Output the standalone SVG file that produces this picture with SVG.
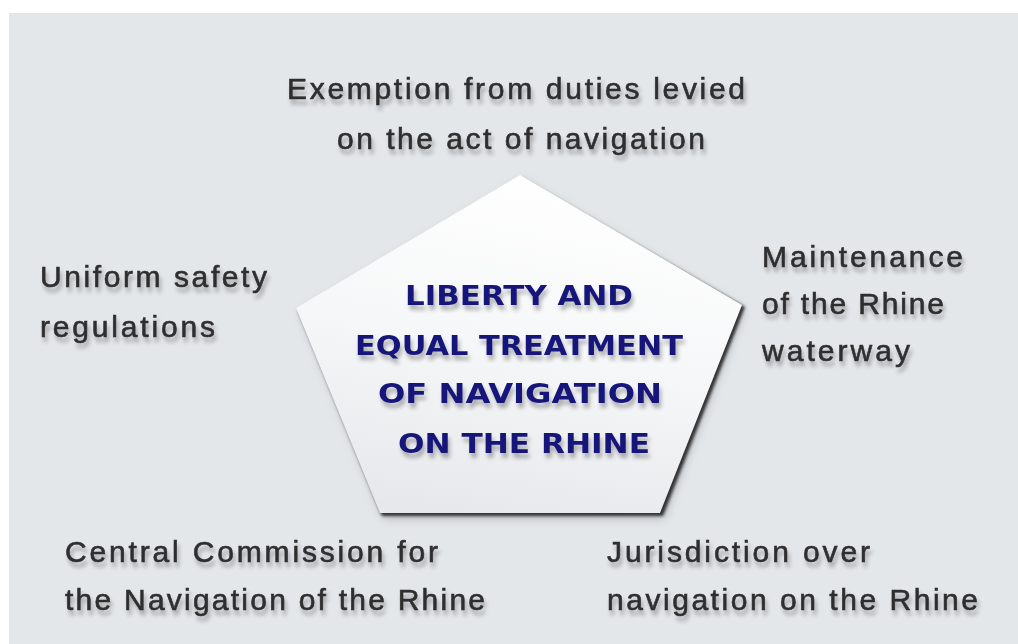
<svg xmlns="http://www.w3.org/2000/svg" width="1018" height="644" viewBox="0 0 1018 644">
<defs>
<style>
.lbl{font-family:"Liberation Sans",Arial,sans-serif;font-size:30px;fill:#2e2e2e;stroke:#2e2e2e;stroke-width:0.6px;filter:url(#tshadow);}
.ctr{font-family:"DejaVu Sans",Verdana,sans-serif;font-weight:bold;font-size:27px;fill:#14147a;filter:url(#tshadow);}
</style>
<filter id="tshadow" x="-10%" y="-40%" width="120%" height="200%">
<feGaussianBlur in="SourceAlpha" stdDeviation="2.2"/>
<feOffset dx="2" dy="5" result="b"/>
<feComponentTransfer in="b" result="s"><feFuncA type="linear" slope="0.3"/></feComponentTransfer>
<feMerge><feMergeNode in="s"/><feMergeNode in="SourceGraphic"/></feMerge>
</filter>
<filter id="pshadow" x="-20%" y="-20%" width="140%" height="140%">
<feGaussianBlur stdDeviation="1.6"/>
</filter>
<filter id="psoft" x="-20%" y="-20%" width="140%" height="140%">
<feGaussianBlur stdDeviation="5"/>
</filter>
<linearGradient id="pfill" x1="0.6" y1="0" x2="0.35" y2="1">
<stop offset="0" stop-color="#ffffff"/>
<stop offset="0.5" stop-color="#f6f7f8"/>
<stop offset="1" stop-color="#e6e8eb"/>
</linearGradient>
</defs>
<rect x="0" y="0" width="1018" height="644" fill="#ffffff"/>
<rect x="9" y="13" width="1009" height="631" fill="#e4e7ea"/>
<g id="connectors"></g>
<g id="center">
<polygon points="522,180 745,310 664,519 384,519 300,313" fill="#9aa0a6" opacity="0.6" filter="url(#psoft)"/>
<polygon points="521,178 745,307 663,516 382,516 298,310" fill="#333333" filter="url(#pshadow)"/>
<polygon points="520,175 742,305 660,513 380,513 296,308" fill="url(#pfill)"/>
<text class="ctr" x="519" y="305" text-anchor="middle" textLength="228" lengthAdjust="spacingAndGlyphs">LIBERTY AND</text>
<text class="ctr" x="519" y="355" text-anchor="middle" textLength="328" lengthAdjust="spacingAndGlyphs">EQUAL TREATMENT</text>
<text class="ctr" x="520" y="403" text-anchor="middle" textLength="284" lengthAdjust="spacingAndGlyphs">OF NAVIGATION</text>
<text class="ctr" x="524" y="453" text-anchor="middle" textLength="252" lengthAdjust="spacingAndGlyphs">ON THE RHINE</text>
</g>
<g id="top">
<text class="lbl" x="287" y="99" textLength="458" lengthAdjust="spacing">Exemption from duties levied</text>
<text class="lbl" x="337" y="149" textLength="368" lengthAdjust="spacing">on the act of navigation</text>
</g>
<g id="left">
<text class="lbl" x="40" y="287" textLength="227" lengthAdjust="spacing">Uniform safety</text>
<text class="lbl" x="40" y="337" textLength="175" lengthAdjust="spacing">regulations</text>
</g>
<g id="right">
<text class="lbl" x="762" y="267" textLength="201" lengthAdjust="spacing">Maintenance</text>
<text class="lbl" x="762" y="314" textLength="182" lengthAdjust="spacing">of the Rhine</text>
<text class="lbl" x="762" y="361" textLength="148" lengthAdjust="spacing">waterway</text>
</g>
<g id="bottom-left">
<text class="lbl" x="65" y="562" textLength="373" lengthAdjust="spacing">Central Commission for</text>
<text class="lbl" x="65" y="610" textLength="420" lengthAdjust="spacing">the Navigation of the Rhine</text>
</g>
<g id="bottom-right">
<text class="lbl" x="607" y="562" textLength="263" lengthAdjust="spacing">Jurisdiction over</text>
<text class="lbl" x="607" y="610" textLength="371" lengthAdjust="spacing">navigation on the Rhine</text>
</g>
</svg>
